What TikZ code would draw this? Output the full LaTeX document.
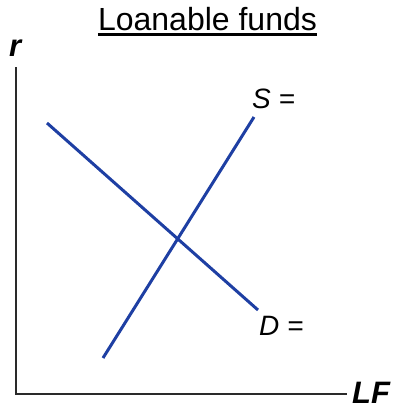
\documentclass[tikz,border=0pt]{standalone}
\usepackage{fontspec}
\setmainfont{Liberation Sans}
\usepackage{tikz}
\definecolor{CurveBlue}{HTML}{1E3FA3}
\definecolor{AxisGray}{HTML}{2A2A2A}

\begin{document}
\begin{tikzpicture}[x=1pt,y=-1pt,
    axisline/.style={AxisGray,line width=1.1pt},
    curve/.style={CurveBlue,line width=3pt},
    lbl/.style={inner sep=0pt,anchor=base west,font=\fontsize{28}{28}\selectfont\itshape},
    axlbl/.style={inner sep=0pt,anchor=base west,font=\fontsize{31}{31}\selectfont\bfseries\itshape}]
      \useasboundingbox (0,0) rectangle (398,408);
      % axes
      \coordinate (ytop) at (16,67);
      \coordinate (origin) at (16,394);
      \coordinate (xend) at (347,394);
      \draw[axisline] (ytop) -- (origin) -- (xend);
      \node[axlbl] (rlbl) at (9,56) {r};
      \node[axlbl] (lflbl) at (352,403) {LF};
      % title
      \node[inner sep=0pt,anchor=base,font=\fontsize{32}{32}\selectfont] (title) at (207.5,30) {Loanable funds};
      \draw[line width=2.4pt] ([yshift=-4.5pt]title.base west) -- ([yshift=-4.5pt]title.base east);
      % supply and demand
      \coordinate (s1) at (103,358);
      \coordinate (s2) at (254,117);
      \coordinate (d1) at (47,123);
      \coordinate (d2) at (258,310);
      \draw[curve] (s1) -- (s2);
      \draw[curve] (d1) -- (d2);
      \node[lbl] (slbl) at (252,108) {S =};
      \node[lbl] (dlbl) at (259,335) {D =};
    \end{tikzpicture}
\end{document}
